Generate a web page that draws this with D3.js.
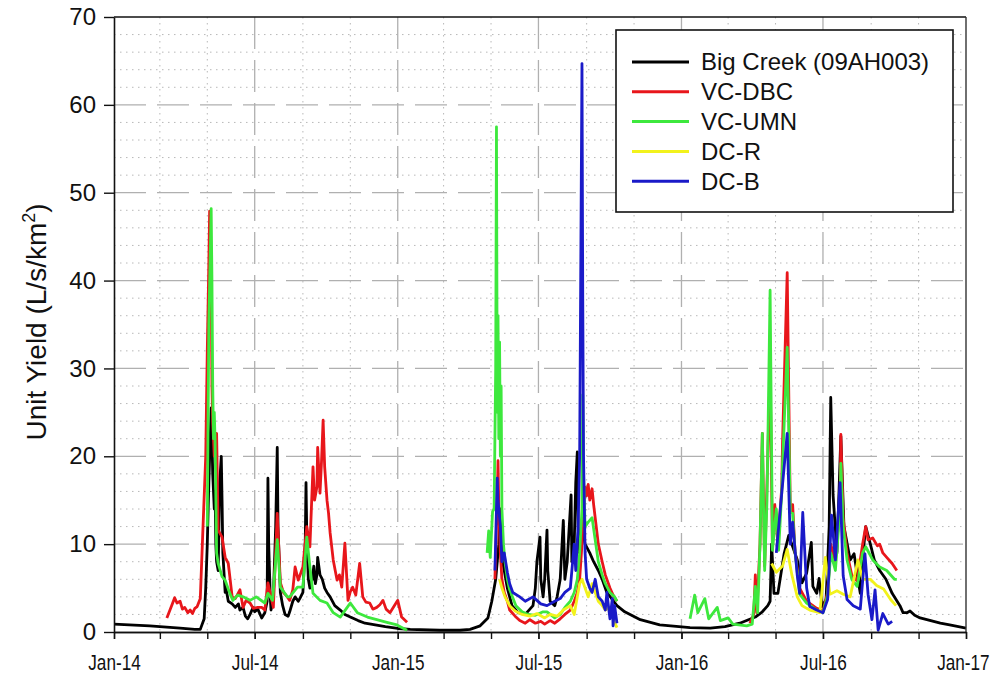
<!DOCTYPE html>
<html><head><meta charset="utf-8">
<script src="https://cdn.jsdelivr.net/npm/d3@7"></script>
<style>
body{margin:0;background:#fff}
svg{font-family:Arial,"Liberation Sans",sans-serif}
</style>
</head><body>
<svg id="c" width="997" height="679"></svg>
<script>
// ---------- DATA ----------
const seriesNames = ["Big Creek (09AH003)", "VC-DBC", "VC-UMN", "DC-R", "DC-B"];
const seriesColors = ["#000000", "#e8161b", "#3de83d", "#f2f21c", "#1a1ac8"];
const yTickValues = [0, 10, 20, 30, 40, 50, 60, 70];
const xTickLabels = ["Jan-14", "Jul-14", "Jan-15", "Jul-15", "Jan-16", "Jul-16", "Jan-17"];
const yTitle = "Unit Yield (L/s/km";
const yTitleSup = "2";

const bigCreek = [
["2014-01-01",0.9],["2014-02-16",0.7],["2014-03-27",0.45],["2014-04-15",0.3],["2014-04-22",0.3],["2014-04-27",1.5],["2014-04-29",5],["2014-05-01",10],["2014-05-03",17],["2014-05-06",25.5],["2014-05-07",22],["2014-05-08",18],["2014-05-10",14],["2014-05-11",16],["2014-05-12",10],["2014-05-13",8],["2014-05-15",7],["2014-05-16",12],["2014-05-17",17],["2014-05-19",20],["2014-05-20",15],["2014-05-21",9],["2014-05-23",6],["2014-05-24",4.5],["2014-05-25",5],["2014-05-28",3.5],["2014-06-02",3.2],["2014-06-06",2.8],["2014-06-10",3.2],["2014-06-12",2.5],["2014-06-16",2.8],["2014-06-19",1.8],["2014-06-22",1.5],["2014-06-25",2.0],["2014-06-29",2.8],["2014-07-01",2.3],["2014-07-05",2.6],["2014-07-08",2.0],["2014-07-10",1.6],["2014-07-14",2.2],["2014-07-17",3.5],["2014-07-18",17.5],["2014-07-19",10],["2014-07-21",4],["2014-07-22",2.5],["2014-07-25",4],["2014-07-28",12],["2014-07-30",21],["2014-07-31",12],["2014-08-03",4.5],["2014-08-06",3],["2014-08-09",2.0],["2014-08-13",1.8],["2014-08-15",2.3],["2014-08-19",3.5],["2014-08-22",4],["2014-08-26",3.5],["2014-08-28",3.8],["2014-09-01",4.5],["2014-09-04",10],["2014-09-05",17],["2014-09-06",11],["2014-09-08",6],["2014-09-10",5],["2014-09-13",6],["2014-09-15",7.5],["2014-09-17",5.5],["2014-09-19",6.5],["2014-09-20",8.5],["2014-09-23",6.5],["2014-09-26",6],["2014-09-29",5],["2014-10-02",4.5],["2014-10-06",4],["2014-10-12",3],["2014-10-19",2.5],["2014-10-25",2.0],["2014-11-01",1.7],["2014-11-11",1.3],["2014-11-20",1.0],["2014-12-03",0.8],["2014-12-16",0.6],["2015-01-01",0.4],["2015-01-17",0.3],["2015-02-24",0.2],["2015-03-22",0.2],["2015-04-04",0.3],["2015-04-17",0.7],["2015-04-27",1.6],["2015-05-02",3.5],["2015-05-07",6],["2015-05-11",10],["2015-05-13",14],["2015-05-16",8],["2015-05-22",5],["2015-05-28",3],["2015-06-05",2.2],["2015-06-14",2.0],["2015-06-24",3],["2015-06-27",5],["2015-06-29",8],["2015-07-03",10.8],["2015-07-04",6],["2015-07-07",4],["2015-07-09",6],["2015-07-12",11.6],["2015-07-13",7],["2015-07-16",3.5],["2015-07-22",3],["2015-07-25",4],["2015-07-29",6],["2015-08-02",12.7],["2015-08-04",6],["2015-08-07",8],["2015-08-12",15.6],["2015-08-13",8],["2015-08-16",10],["2015-08-18",17],["2015-08-20",20.5],["2015-08-21",12],["2015-08-23",9],["2015-08-26",12],["2015-08-30",10],["2015-09-05",9],["2015-09-10",8],["2015-09-16",7],["2015-09-21",6],["2015-09-27",4.5],["2015-10-04",3.7],["2015-10-10",3],["2015-10-20",2.3],["2015-11-09",1.4],["2015-12-04",0.8],["2016-01-12",0.5],["2016-02-07",0.45],["2016-02-26",0.6],["2016-03-16",1.0],["2016-04-05",1.7],["2016-04-14",2.3],["2016-04-21",3.0],["2016-04-24",3.5],["2016-04-26",10],["2016-04-29",4.4],["2016-05-04",4.4],["2016-05-12",8.9],["2016-05-18",11],["2016-05-29",8.2],["2016-06-04",5.6],["2016-06-10",6.7],["2016-06-16",10.2],["2016-06-18",5.2],["2016-06-23",4.4],["2016-06-26",6.1],["2016-06-30",2.9],["2016-07-05",3.7],["2016-07-09",12],["2016-07-11",26.7],["2016-07-14",15.6],["2016-07-19",9],["2016-07-23",19.6],["2016-07-24",22.3],["2016-07-28",12],["2016-08-05",8.2],["2016-08-10",8.9],["2016-08-15",6],["2016-08-18",4.4],["2016-08-22",9.3],["2016-08-25",12],["2016-08-31",10],["2016-09-05",8.2],["2016-09-12",7.0],["2016-09-20",6],["2016-09-28",4.4],["2016-10-08",3],["2016-10-12",2.2],["2016-10-17",2.2],["2016-10-21",2.4],["2016-10-27",1.9],["2016-11-03",1.6],["2016-11-29",1.0],["2016-12-11",0.8],["2017-01-01",0.45]
];

const vcDbc = [
["2014-03-10",1.6],["2014-03-14",2.5],["2014-03-17",3.2],["2014-03-20",3.9],["2014-03-23",3.3],["2014-03-27",3.5],["2014-03-30",2.6],["2014-04-02",2.8],["2014-04-06",2.2],["2014-04-09",2.5],["2014-04-12",2.1],["2014-04-15",2.7],["2014-04-18",2.9],["2014-04-22",3.8],["2014-04-25",10.8],["2014-04-29",20],["2014-05-01",32],["2014-05-03",42],["2014-05-04",47.9],["2014-05-06",40],["2014-05-07",28],["2014-05-08",23.8],["2014-05-10",20],["2014-05-13",22.6],["2014-05-15",11.6],["2014-05-20",10.8],["2014-05-24",8.5],["2014-05-28",7.8],["2014-05-30",6.3],["2014-06-02",4],["2014-06-06",3.8],["2014-06-12",4.8],["2014-06-16",2.8],["2014-06-20",3.6],["2014-06-25",3.3],["2014-06-29",2.7],["2014-07-05",2.8],["2014-07-10",2.8],["2014-07-14",2.5],["2014-07-18",5.6],["2014-07-25",2.8],["2014-07-30",13.5],["2014-08-03",5.6],["2014-08-07",4.5],["2014-08-12",4],["2014-08-15",3.6],["2014-08-19",4.8],["2014-08-22",7.4],["2014-08-26",5.9],["2014-09-01",7.4],["2014-09-06",12],["2014-09-10",9.7],["2014-09-14",18.8],["2014-09-16",15],["2014-09-19",16.5],["2014-09-20",21],["2014-09-23",15.8],["2014-09-25",19.5],["2014-09-27",24.1],["2014-09-29",18.8],["2014-10-02",15],["2014-10-04",13.5],["2014-10-06",11.3],["2014-10-10",8.2],["2014-10-13",6.8],["2014-10-15",5.9],["2014-10-18",6.5],["2014-10-21",5.1],["2014-10-25",10.1],["2014-10-29",3.6],["2014-11-01",4.6],["2014-11-04",5.1],["2014-11-08",4.2],["2014-11-13",7.8],["2014-11-17",4],["2014-11-21",3.4],["2014-11-26",3.3],["2014-11-30",2.6],["2014-12-05",2.8],["2014-12-09",3.1],["2014-12-13",3.6],["2014-12-17",2.6],["2014-12-22",2.2],["2014-12-27",2.9],["2015-01-01",3.6],["2015-01-06",1.7],["2015-01-13",1.1],
["2015-05-06",6],["2015-05-09",15],["2015-05-10",19.5],["2015-05-11",14],["2015-05-13",9],["2015-05-15",6],["2015-05-18",4.5],["2015-05-22",3.5],["2015-05-25",2.5],["2015-06-01",1.8],["2015-06-07",1.3],["2015-06-14",1.0],["2015-06-20",1.4],["2015-06-27",1.0],["2015-07-04",1.2],["2015-07-09",0.9],["2015-07-16",1.3],["2015-07-22",1.0],["2015-07-29",1.5],["2015-08-04",2.0],["2015-08-11",2.5],["2015-08-16",3.5],["2015-08-20",4.5],["2015-08-23",6],["2015-08-26",10],["2015-08-28",14],["2015-08-30",16.5],["2015-09-01",15.5],["2015-09-03",16.8],["2015-09-05",15],["2015-09-08",16.3],["2015-09-10",14.5],["2015-09-12",13],["2015-09-16",10],["2015-09-21",8],["2015-09-25",6.5],["2015-10-01",5],["2015-10-05",4.2],["2015-10-10",3.5],
["2016-03-29",1],["2016-04-03",2],["2016-04-05",6.5],["2016-04-07",2.2],["2016-04-11",10],["2016-04-14",22.6],["2016-04-17",7.5],["2016-04-21",20],["2016-04-24",30],["2016-04-27",9.5],["2016-04-30",14.5],["2016-05-04",10],["2016-05-09",16.5],["2016-05-10",21.6],["2016-05-16",40.9],["2016-05-20",13.6],["2016-05-23",14.5],["2016-05-26",9.2],["2016-06-01",5],["2016-06-10",3.5],["2016-06-23",2.7],["2016-07-01",2.4],["2016-07-07",4.5],["2016-07-11",10],["2016-07-17",8],["2016-07-23",15],["2016-07-24",22.5],["2016-07-27",13],["2016-08-01",9],["2016-08-07",6.5],["2016-08-14",5.8],["2016-08-21",10],["2016-08-25",12],["2016-08-28",10.5],["2016-09-03",10.7],["2016-09-09",9.8],["2016-09-12",10],["2016-09-16",9],["2016-09-21",8.5],["2016-09-28",7.8],["2016-10-04",7.0]
];

const vcUmn = [
["2014-05-01",12],["2014-05-03",35],["2014-05-06",48.2],["2014-05-07",40],["2014-05-08",28],["2014-05-09",22],["2014-05-10",25],["2014-05-11",21.9],["2014-05-13",9],["2014-05-15",7.8],["2014-05-20",6.3],["2014-05-24",5.9],["2014-05-30",4.4],["2014-06-03",3.6],["2014-06-09",4.2],["2014-06-16",4],["2014-06-25",3.6],["2014-07-03",4],["2014-07-14",3.3],["2014-07-18",4.4],["2014-07-24",3.6],["2014-07-30",10.5],["2014-08-03",5.1],["2014-08-12",4],["2014-08-15",4],["2014-08-25",5.1],["2014-09-01",5.1],["2014-09-06",10.8],["2014-09-10",7.4],["2014-09-14",4.4],["2014-09-23",3.6],["2014-10-02",3.3],["2014-10-10",2.2],["2014-10-19",1.7],["2014-10-28",2.8],["2014-11-01",3.3],["2014-11-10",2.2],["2014-11-23",1.7],["2014-12-05",1.4],["2014-12-18",1.1],["2014-12-31",0.8],["2015-01-13",0.2],
["2015-04-26",9],["2015-04-28",11.5],["2015-04-30",8.5],["2015-05-03",13.7],["2015-05-05",14],["2015-05-07",30],["2015-05-08",57.5],["2015-05-09",25],["2015-05-10",36],["2015-05-11",22],["2015-05-12",33],["2015-05-13",20],["2015-05-14",28],["2015-05-15",14],["2015-05-17",10],["2015-05-19",8],["2015-05-22",6],["2015-05-25",4.8],["2015-06-02",3],["2015-06-10",2.3],["2015-06-18",2.0],["2015-06-27",1.9],["2015-07-07",2.3],["2015-07-12",2.3],["2015-07-22",1.6],["2015-07-29",2.0],["2015-08-04",2.8],["2015-08-11",3.5],["2015-08-16",4.5],["2015-08-20",6],["2015-08-23",9],["2015-08-26",14],["2015-08-27",27],["2015-08-28",18],["2015-08-30",12],["2015-09-03",12.5],["2015-09-08",13],["2015-09-12",10.5],["2015-09-16",8],["2015-09-21",6.5],["2015-09-25",5.5],["2015-10-01",4.5],["2015-10-07",4],["2015-10-10",3.5],
["2016-01-12",1.5],["2016-01-18",4.2],["2016-01-22",2.2],["2016-01-31",3.8],["2016-02-05",1.5],["2016-02-16",2.8],["2016-02-20",1.3],["2016-03-01",1.6],["2016-03-07",0.9],["2016-03-25",0.7],["2016-04-01",0.9],["2016-04-05",5.2],["2016-04-08",2.2],["2016-04-11",10],["2016-04-14",22.6],["2016-04-16",12],["2016-04-17",7],["2016-04-20",15],["2016-04-24",38.9],["2016-04-26",20],["2016-04-27",9.3],["2016-05-02",14],["2016-05-05",9.3],["2016-05-09",16],["2016-05-10",19],["2016-05-16",32.4],["2016-05-20",13.6],["2016-05-23",13.5],["2016-05-26",9.2],["2016-06-01",4.3],["2016-06-10",3.3],["2016-06-23",2.5],["2016-07-01",2.2],["2016-07-07",4.2],["2016-07-11",9],["2016-07-17",7],["2016-07-23",14],["2016-07-24",19.2],["2016-07-27",12],["2016-08-01",8.2],["2016-08-07",6],["2016-08-14",5.2],["2016-08-21",9],["2016-08-25",9.7],["2016-09-03",8.2],["2016-09-12",7.4],["2016-09-21",7],["2016-10-01",6],["2016-10-04",6]
];

const dcR = [
["2015-05-12",6],["2015-05-15",5],["2015-05-19",4],["2015-05-25",3],["2015-06-01",2.4],["2015-06-10",2.0],["2015-06-20",1.8],["2015-06-29",2.1],["2015-07-09",1.6],["2015-07-16",2.0],["2015-07-25",1.8],["2015-08-02",2.5],["2015-08-11",3],["2015-08-16",2],["2015-08-20",4],["2015-08-23",5.5],["2015-08-26",6],["2015-08-30",5],["2015-09-03",4],["2015-09-08",5.5],["2015-09-12",4.5],["2015-09-16",3.5],["2015-09-21",3],["2015-09-25",2.5],["2015-10-01",2.8],["2015-10-05",1.5],["2015-10-10",0.5],
["2016-04-26",7.8],["2016-05-02",6.8],["2016-05-10",7.5],["2016-05-16",9.4],["2016-05-22",6.5],["2016-05-29",4],["2016-06-04",3],["2016-06-14",2.5],["2016-06-27",2.2],["2016-07-04",8.5],["2016-07-10",4.3],["2016-07-19",4.7],["2016-07-27",4.3],["2016-08-05",4],["2016-08-15",8.2],["2016-08-21",6],["2016-08-31",6],["2016-09-08",5.3],["2016-09-17",4.9],["2016-09-26",3.7],["2016-10-03",3.0]
];

const dcB = [
["2015-05-06",7],["2015-05-08",14],["2015-05-09",17.5],["2015-05-10",15],["2015-05-13",12],["2015-05-15",8],["2015-05-18",9],["2015-05-22",6.8],["2015-05-25",5.5],["2015-05-29",4.5],["2015-06-07",4],["2015-06-14",3.5],["2015-06-24",4],["2015-07-04",3.2],["2015-07-12",3],["2015-07-22",3.5],["2015-07-29",3.8],["2015-08-04",4.5],["2015-08-11",5],["2015-08-16",10],["2015-08-18",7],["2015-08-21",12],["2015-08-23",20],["2015-08-26",64.7],["2015-08-27",38],["2015-08-28",20],["2015-08-30",9],["2015-09-01",6],["2015-09-05",5],["2015-09-08",4.5],["2015-09-12",6],["2015-09-16",4],["2015-09-21",3.5],["2015-09-25",2.5],["2015-09-27",4.5],["2015-10-01",1.5],["2015-10-04",3.8],["2015-10-05",0.7],["2015-10-07",3],["2015-10-10",1.0],
["2016-05-02",9],["2016-05-09",15.8],["2016-05-16",22.6],["2016-05-20",10],["2016-05-23",12.5],["2016-05-29",6.4],["2016-06-01",4.4],["2016-06-05",13.6],["2016-06-10",5],["2016-06-14",2.9],["2016-06-23",2.5],["2016-07-01",2.2],["2016-07-07",3.7],["2016-07-12",13.3],["2016-07-17",8.2],["2016-07-23",17],["2016-07-27",6.4],["2016-08-01",3.7],["2016-08-09",3],["2016-08-18",2.6],["2016-08-24",8.9],["2016-08-28",4.3],["2016-09-02",1.4],["2016-09-06",4.8],["2016-09-10",0.2],["2016-09-16",2.1],["2016-09-23",0.9],["2016-09-28",1.2]
];

const allSeries = [bigCreek, vcDbc, vcUmn, dcR, dcB];

// ---------- CHART ----------
const svg = d3.select("#c");
const parse = d3.timeParse("%Y-%m-%d");
const pL = 114, pR = 966, pT = 17, pB = 632;
const x = d3.scaleTime().domain([new Date(2014,0,1), new Date(2017,0,1)]).range([pL, pR]);
const y = d3.scaleLinear().domain([0, 70]).range([pB, pT]);

const grid = svg.append("g");
d3.range(2, 70, 2).filter(v => v % 10 !== 0).forEach(v => {
  grid.append("line").attr("x1", pL).attr("x2", pR).attr("y1", y(v)).attr("y2", y(v))
    .attr("stroke", "#b8b8b8").attr("stroke-width", 1).attr("stroke-dasharray", "1.5,4.5");
});
d3.timeMonth.every(2).range(new Date(2014,0,1), new Date(2017,0,1)).filter(d => d.getMonth() % 6 !== 0).forEach(d => {
  grid.append("line").attr("x1", x(d)).attr("x2", x(d)).attr("y1", pT).attr("y2", pB)
    .attr("stroke", "#b8b8b8").attr("stroke-width", 1).attr("stroke-dasharray", "1.5,4.5");
});
yTickValues.filter(v => v > 0 && v < 70).forEach(v => {
  grid.append("line").attr("x1", pL).attr("x2", pR).attr("y1", y(v)).attr("y2", y(v))
    .attr("stroke", "#b0b0b0").attr("stroke-width", 1.3).attr("stroke-dasharray", "32,11");
});
d3.timeMonth.every(6).range(new Date(2014,6,1), new Date(2017,0,1)).forEach(d => {
  grid.append("line").attr("x1", x(d)).attr("x2", x(d)).attr("y1", pT).attr("y2", pB)
    .attr("stroke", "#b0b0b0").attr("stroke-width", 1.3).attr("stroke-dasharray", "32,11");
});

const line = d3.line().x(d => x(d[0])).y(d => y(d[1]));
function segments(arr) {
  const pts = arr.map(d => [parse(d[0]), d[1]]);
  const segs = [[]];
  pts.forEach((p, i) => {
    if (i > 0 && (p[0] - pts[i-1][0]) / 864e5 > 60) segs.push([]);
    segs[segs.length-1].push(p);
  });
  return segs;
}
const plot = svg.append("g");
allSeries.forEach((s, i) => {
  segments(s).forEach(seg => {
    plot.append("path").attr("d", line(seg)).attr("fill", "none")
      .attr("stroke", seriesColors[i]).attr("stroke-width", 2.8)
      .attr("stroke-linejoin", "round");
  });
});

svg.append("line").attr("x1", pL).attr("x2", pR).attr("y1", pT).attr("y2", pT).attr("stroke", "#111").attr("stroke-width", 1.6);
svg.append("line").attr("x1", pR).attr("x2", pR).attr("y1", pT).attr("y2", pB).attr("stroke", "#333").attr("stroke-width", 1.4);

const yAxis = svg.append("g").attr("transform", `translate(${pL},0)`)
  .call(d3.axisLeft(y).tickValues(yTickValues).tickSize(10).tickSizeOuter(0).tickPadding(8).tickFormat(d3.format("d")));
const xMinor = svg.append("g").attr("transform", `translate(0,${pB})`)
  .call(d3.axisBottom(x).ticks(d3.timeMonth.every(2)).tickSize(7).tickSizeOuter(0).tickFormat(""));
const xAxis = svg.append("g").attr("transform", `translate(0,${pB})`)
  .call(d3.axisBottom(x).tickValues(xTickLabels.map((t, i) => d3.timeMonth.offset(new Date(2014,0,1), 6*i)))
    .tickSize(7).tickSizeOuter(0).tickPadding(15).tickFormat((d, i) => xTickLabels[i]));
[yAxis, xAxis, xMinor].forEach(g => {
  g.selectAll("path.domain").attr("stroke", "#111").attr("stroke-width", 1.6);
  g.selectAll(".tick line").attr("stroke", "#111").attr("stroke-width", 1.4);
  g.selectAll("text").attr("font-size", 24).attr("fill", "#111")
    .attr("font-family", "Arial, 'Liberation Sans', sans-serif");
});
// x labels appear condensed in the reference: squeeze horizontally
xAxis.selectAll(".tick text").attr("font-size", 22).attr("transform", "scale(0.78,1)");
xAxis.selectAll(".tick text").filter((d, i) => i === xTickLabels.length - 1).attr("x", -4);

const yt = svg.append("text").attr("transform", "translate(46,322) rotate(-90)")
  .attr("text-anchor", "middle").attr("font-size", 28).attr("fill", "#111");
yt.append("tspan").text(yTitle);
yt.append("tspan").attr("dy", -11).attr("font-size", 18).text(yTitleSup);
yt.append("tspan").attr("dy", 11).text(")");

const lg = svg.append("g");
lg.append("rect").attr("x", 616).attr("y", 30).attr("width", 337).attr("height", 182)
  .attr("fill", "#fff").attr("stroke", "#111").attr("stroke-width", 1.6);
seriesNames.forEach((n, i) => {
  const yy = 62 + i * 29.8;
  lg.append("line").attr("x1", 632).attr("x2", 689).attr("y1", yy).attr("y2", yy)
    .attr("stroke", seriesColors[i]).attr("stroke-width", 3);
  lg.append("text").attr("x", 701).attr("y", yy).attr("dy", "0.35em")
    .attr("font-size", 24).attr("fill", "#111").text(n);
});
</script>
</body></html>
